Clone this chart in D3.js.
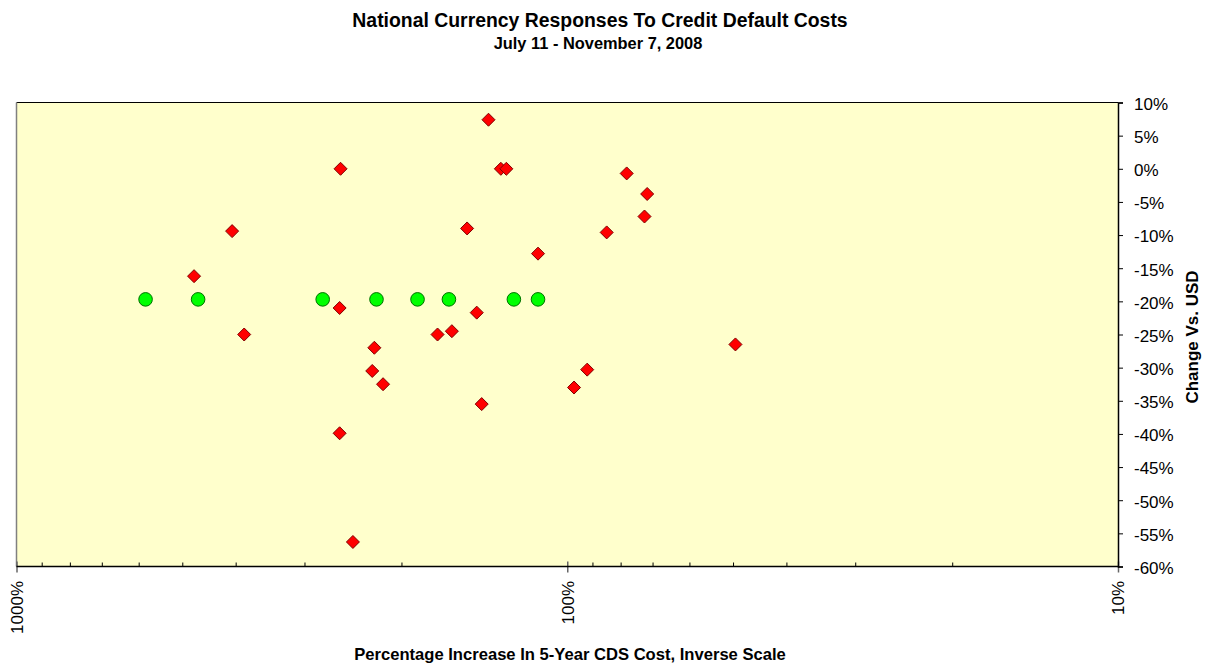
<!DOCTYPE html>
<html>
<head>
<meta charset="utf-8">
<script src="https://cdn.jsdelivr.net/npm/d3@7"></script>
<style>
  html, body { margin: 0; padding: 0; background: #fff; }
  svg { display: block; font-family: "Liberation Sans", Arial, sans-serif; }
</style>
</head>
<body>
<svg id="chart" width="1207" height="665"></svg>
<script>
// Percentage increase in 5-year CDS cost (x) vs. currency change vs. USD (y), in percent
const redX = [258, 406, 476, 259, 386, 139, 132, 129, 78, 71.6, 72.4, 84.8, 152,
              113, 146, 172, 162, 49.5, 224, 226, 216, 259, 245, 143, 97.2, 92];
const redY = [0, -9.4, -16.2, -21.0, -25.0, 7.4, 0, 0, -0.7, -3.8, -7.2, -9.6, -9.0,
              -12.8, -21.7, -25.0, -24.5, -26.5, -27.0, -30.5, -32.5, -39.9, -56.3, -35.5, -33.0, -30.3];
const greenX = [583, 468, 278, 222, 187, 164, 125, 113];
const greenY = [-19.7, -19.7, -19.7, -19.7, -19.7, -19.7, -19.7, -19.7];

const xMajorTicks = [1000, 100, 10];
const xMinorTicks = [900, 800, 700, 600, 500, 400, 300, 200, 90, 80, 70, 60, 50, 40, 30, 20];
const yTicks = [10, 5, 0, -5, -10, -15, -20, -25, -30, -35, -40, -45, -50, -55, -60];

const titleText = "National Currency Responses To Credit Default Costs";
const subtitleText = "July 11 - November 7, 2008";
const xTitleText = "Percentage Increase In 5-Year CDS Cost, Inverse Scale";
const yTitleText = "Change Vs. USD";

const FONT = "'Liberation Sans', Arial, sans-serif";
const svg = d3.select("#chart");
const plot = { left: 16.5, right: 1118, top: 102.5, bottom: 566.5 };

// inverse log scale: large increases on the left
const x = d3.scaleLog().domain([1000, 10]).range([plot.left, plot.right]);
const y = d3.scaleLinear().domain([-60, 10]).range([plot.bottom, plot.top]);

// plot area background
svg.append("rect")
  .attr("x", plot.left).attr("y", plot.top)
  .attr("width", plot.right - plot.left).attr("height", plot.bottom - plot.top)
  .attr("fill", "#FFFFCC");

// top and left frame edges
svg.append("line").attr("x1", plot.left).attr("x2", plot.right)
  .attr("y1", plot.top).attr("y2", plot.top)
  .attr("stroke", "#000").attr("stroke-width", 1);
svg.append("line").attr("x1", plot.left).attr("x2", plot.left)
  .attr("y1", plot.top).attr("y2", plot.bottom)
  .attr("stroke", "#808080").attr("stroke-width", 1.5);

// x axis: minor ticks point into the plot, major ticks cross the axis
const gx = svg.append("g").attr("transform", `translate(0,${plot.bottom})`);
gx.call(d3.axisBottom(x).tickValues(xMinorTicks).tickSize(-4).tickFormat(""))
  .call(g => g.select(".domain").remove())
  .call(g => g.selectAll(".tick line").attr("stroke", "#000"));
const gxMajor = svg.append("g").attr("transform", `translate(0,${plot.bottom})`);
gxMajor.call(d3.axisBottom(x).tickValues(xMajorTicks).tickSize(0).tickFormat(d => d + "%"))
  .call(g => g.select(".domain").remove());
gxMajor.selectAll(".tick").append("line")
  .attr("y1", -5).attr("y2", 6).attr("stroke", "#666").attr("stroke-width", 1.5);
gxMajor.selectAll(".tick text")
  .attr("transform", "rotate(-90)")
  .attr("text-anchor", "end")
  .attr("x", -14.5).attr("y", 0).attr("dy", "0.35em")
  .attr("font-size", 17).attr("fill", "#000")
  .attr("font-family", FONT);
svg.append("line").attr("x1", plot.left).attr("x2", plot.right)
  .attr("y1", plot.bottom).attr("y2", plot.bottom)
  .attr("stroke", "#000").attr("stroke-width", 1.5);

// y axis on the right, labels left-aligned
const gy = svg.append("g").attr("transform", `translate(${plot.right},0)`);
gy.call(d3.axisRight(y).tickValues(yTicks).tickSize(5).tickPadding(11).tickFormat(d => d + "%"))
  .call(g => g.select(".domain").attr("stroke", "#000").attr("stroke-width", 1.5))
  .call(g => g.selectAll(".tick line").attr("stroke", "#000"))
  .call(g => g.selectAll(".tick text").attr("font-size", 17).attr("fill", "#000")
    .attr("dy", "0.4em").attr("font-family", FONT));

// markers
svg.append("g").selectAll("path")
  .data(redX.map((d, i) => [d, redY[i]]))
  .join("path")
  .attr("transform", d => `translate(${x(d[0])},${y(d[1])})`)
  .attr("d", "M0,-6.5L6.5,0L0,6.5L-6.5,0Z")
  .attr("fill", "#FF0000").attr("stroke", "#800000").attr("stroke-width", 1);

svg.append("g").selectAll("circle")
  .data(greenX.map((d, i) => [d, greenY[i]]))
  .join("circle")
  .attr("cx", d => x(d[0])).attr("cy", d => y(d[1]))
  .attr("r", 6.8)
  .attr("fill", "#00FF00").attr("stroke", "#007000").attr("stroke-width", 1);

// titles
svg.append("text").attr("x", 600).attr("y", 27).attr("text-anchor", "middle")
  .attr("font-size", 19.4).attr("font-weight", "bold").text(titleText);
svg.append("text").attr("x", 598).attr("y", 49).attr("text-anchor", "middle")
  .attr("font-size", 16.4).attr("font-weight", "bold").text(subtitleText);
svg.append("text").attr("x", 570).attr("y", 660).attr("text-anchor", "middle")
  .attr("font-size", 16.6).attr("font-weight", "bold").text(xTitleText);
svg.append("text")
  .attr("transform", "translate(1198,337) rotate(-90)")
  .attr("text-anchor", "middle")
  .attr("font-size", 17).attr("font-weight", "bold").text(yTitleText);
</script>
</body>
</html>
